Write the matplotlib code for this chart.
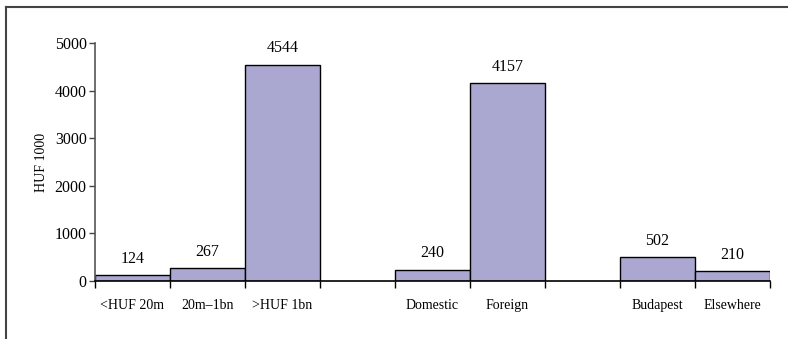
import matplotlib
matplotlib.use("Agg")
import matplotlib.pyplot as plt
from matplotlib.lines import Line2D

# Investment per enterprise, HUF 1000, in three groupings
size_labels = ["<HUF 20m", "20m\u20131bn", ">HUF 1bn"]
size_values = [124, 267, 4544]
owner_labels = ["Domestic", "Foreign"]
owner_values = [240, 4157]
place_labels = ["Budapest", "Elsewhere"]
place_values = [502, 210]

y_ticks = [0, 1000, 2000, 3000, 4000, 5000]
y_label = "HUF 1000"

groups = [(size_labels, size_values), (owner_labels, owner_values), (place_labels, place_values)]

plt.rcParams["font.family"] = ["Liberation Serif", "DejaVu Serif"]

fig = plt.figure(figsize=(7.88, 3.39), dpi=100)
ax = fig.add_axes([95 / 788, 58 / 339, 675 / 788, 238 / 339])

bar_color = "#aaa8d1"
pos = 0
centers, labels = [], []
for gi, (labs, vals) in enumerate(groups):
    if gi > 0:
        pos += 1  # empty slot between groups
    for lab, val in zip(labs, vals):
        x = pos + 0.5
        ax.bar(x, val, width=1.0, color=bar_color, edgecolor="black", linewidth=1.0)
        ax.annotate(str(val), (x, val), xytext=(0, 9), textcoords="offset points",
                    ha="center", va="baseline", fontsize=11.5)
        centers.append(x)
        labels.append(lab)
        pos += 1

ax.set_xlim(0, pos)
ax.set_ylim(0, 5000)

ax.set_xticks(centers)
ax.set_xticklabels(labels, fontsize=10)
ax.set_xticks(range(0, pos + 1), minor=True)
ax.tick_params(axis="x", which="major", length=0, pad=13)
ax.tick_params(axis="x", which="minor", length=5, width=1, direction="out")

ax.set_yticks(y_ticks)
ax.tick_params(axis="y", length=4, width=1, pad=2, labelsize=11.5, color="#444444")
ax.set_ylabel(y_label, fontsize=10, labelpad=5)

for side in ("top", "right"):
    ax.spines[side].set_visible(False)
ax.spines["left"].set_color("#555555")
ax.spines["left"].set_linewidth(1.2)
ax.spines["bottom"].set_color("black")
ax.spines["bottom"].set_linewidth(1.2)

# frame lines along the left and top edges of the figure
fig.add_artist(Line2D([6 / 788, 6 / 788], [0, 1 - 7 / 339], transform=fig.transFigure,
                      color="#444444", linewidth=1.5))
fig.add_artist(Line2D([6 / 788, 1], [1 - 7 / 339, 1 - 7 / 339], transform=fig.transFigure,
                      color="#444444", linewidth=1.5))

fig.savefig("out.png", dpi=100)
